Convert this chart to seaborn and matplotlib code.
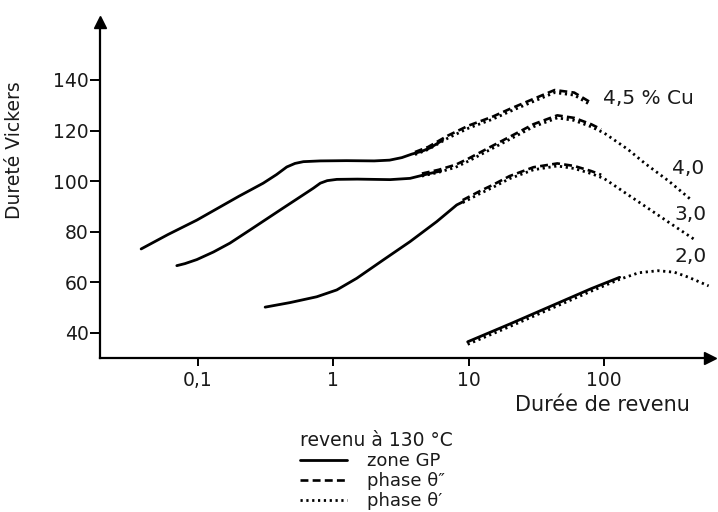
import matplotlib
matplotlib.use("Agg")
import matplotlib.pyplot as plt
from matplotlib.lines import Line2D
import seaborn as sns
import numpy as np

# ---- data ----
# 4.5 % Cu
cu45_gp_x = [0.038, 0.06, 0.098, 0.2, 0.303, 0.38, 0.452, 0.52, 0.6, 0.8, 1.25, 2.0, 2.6, 3.2, 3.8, 4.5, 5.2, 6.4]
cu45_gp_y = [73.2, 78.9, 84.6, 94.0, 99.2, 102.6, 105.6, 107.0, 107.7, 108.0, 108.1, 108.0, 108.3, 109.3, 110.7, 111.8, 113.2, 116.2]
cu45_t2_x = [4.0, 5.0, 7.0, 10, 15, 20, 30, 43, 60, 80]
cu45_t2_y = [111.5, 113.5, 118.0, 122.0, 125.5, 128.5, 132.5, 136.0, 135.0, 131.0]
cu45_t1_x = [4.0, 5.0, 7.0, 10, 15, 20, 30, 43, 60, 80]
cu45_t1_y = [110.5, 112.5, 117.0, 121.0, 124.5, 127.5, 131.5, 135.0, 134.0, 130.0]

# 4.0 % Cu
cu40_gp_x = [0.0697, 0.08, 0.098, 0.13, 0.172, 0.242, 0.426, 0.536, 0.71, 0.8, 0.9, 1.06, 1.5, 2.62, 3.68, 5.2, 6.2]
cu40_gp_y = [66.6, 67.4, 69.0, 72.0, 75.5, 80.7, 89.4, 92.9, 97.2, 99.2, 100.2, 100.7, 100.8, 100.6, 101.1, 103.1, 104.0]
cu40_t2_x = [4.5, 6.0, 8.0, 10, 15, 20, 30, 45, 60, 80, 95]
cu40_t2_y = [103.0, 104.5, 106.5, 109.0, 114.0, 117.5, 122.5, 126.0, 125.0, 122.5, 120.5]
cu40_t1_x = [4.5, 6.0, 8.0, 10, 15, 20, 30, 45, 60, 80, 100, 150, 200, 300, 430]
cu40_t1_y = [102.0, 103.5, 105.5, 108.0, 113.0, 116.5, 121.5, 125.0, 124.0, 121.5, 119.0, 112.5, 107.0, 100.0, 93.0]

# 3.0 % Cu
cu30_gp_x = [0.313, 0.478, 0.753, 1.058, 1.486, 2.34, 3.68, 5.79, 8.14, 9.1]
cu30_gp_y = [50.2, 52.0, 54.3, 57.0, 61.6, 68.9, 76.1, 84.0, 90.6, 91.9]
cu30_t2_x = [9.0, 12, 15, 20, 30, 45, 60, 80, 95]
cu30_t2_y = [92.5, 96.0, 98.5, 102.0, 105.5, 107.0, 106.0, 104.0, 102.5]
cu30_t1_x = [9.0, 12, 15, 20, 30, 45, 60, 80, 100, 150, 200, 300, 480]
cu30_t1_y = [91.5, 95.0, 97.5, 101.0, 104.5, 106.0, 105.0, 103.0, 101.0, 94.6, 90.1, 83.7, 76.4]

# 2.0 % Cu
cu20_gp_x = [9.8, 20, 40, 80, 130]
cu20_gp_y = [36.5, 43.5, 50.5, 57.5, 62.0]
cu20_t1_x = [9.8, 20, 40, 80, 130, 180, 250, 330, 420, 590]
cu20_t1_y = [35.5, 42.5, 49.5, 56.5, 61.2, 63.8, 64.6, 64.0, 62.0, 58.6]

curve_labels = ["4,5 % Cu", "4,0", "3,0", "2,0"]

xtick_vals = [0.1, 1, 10, 100]
xtick_labels = ["0,1", "1", "10", "100"]
ytick_vals = [40, 60, 80, 100, 120, 140]

legend_title = "revenu à 130 °C"
legend_labels = ["zone GP", "phase θ″", "phase θ′"]

# ---- style ----
sns.set_style("ticks")
plt.rcParams["font.family"] = ["DejaVu Sans"]
TXT = "#1a1a1a"

W, H = 718, 512
fig = plt.figure(figsize=(W / 100, H / 100), dpi=100)
fig.patch.set_facecolor("white")
x0, x1, y0, y1 = 100, 710, 22, 358
ax = fig.add_axes([x0 / W, 1 - y1 / H, (x1 - x0) / W, (y1 - y0) / H])
ax.set_facecolor("white")

SOLID = dict(color="black", lw=2.0, linestyle="-")
DASH = dict(color="black", lw=1.9, linestyle=(0, (3.0, 1.6)))
DOT = dict(color="black", lw=2.0, linestyle=(0, (0.8, 1.3)))

def draw(xs, ys, style):
    sns.lineplot(x=np.array(xs, float), y=np.array(ys, float), ax=ax,
                 sort=False, estimator=None, **style)

for xs, ys in [(cu45_gp_x, cu45_gp_y), (cu40_gp_x, cu40_gp_y),
               (cu30_gp_x, cu30_gp_y), (cu20_gp_x, cu20_gp_y)]:
    draw(xs, ys, SOLID)
for xs, ys in [(cu45_t2_x, cu45_t2_y), (cu40_t2_x, cu40_t2_y), (cu30_t2_x, cu30_t2_y)]:
    draw(xs, ys, DASH)
for xs, ys in [(cu45_t1_x, cu45_t1_y), (cu40_t1_x, cu40_t1_y),
               (cu30_t1_x, cu30_t1_y), (cu20_t1_x, cu20_t1_y)]:
    draw(xs, ys, DOT)

ax.set_xscale("log")
ax.set_xlim(0.01888, 604)
ax.set_ylim(30.1, 162.9)
ax.set_xticks(xtick_vals)
ax.set_xticklabels(xtick_labels)
ax.minorticks_off()
ax.set_yticks(ytick_vals)

for s in ["top", "right"]:
    ax.spines[s].set_visible(False)
for s in ["left", "bottom"]:
    ax.spines[s].set_linewidth(1.6)
    ax.spines[s].set_color("black")
ax.tick_params(axis="y", length=7, width=1.4, pad=1, labelsize=13.5, colors="black", labelcolor=TXT)
ax.tick_params(axis="x", length=6, width=1.4, pad=3, labelsize=13.5, colors="black", labelcolor=TXT)

# arrow heads
ax.plot([1], [0], marker=">", ms=9, color="black", transform=ax.transAxes, clip_on=False)
ax.plot([0], [1], marker="^", ms=9, color="black", transform=ax.transAxes, clip_on=False)

ax.set_ylabel("Dureté Vickers", fontsize=13.5, color=TXT)
ax.yaxis.set_label_coords((24 - x0) / (x1 - x0), (y1 - 150) / (y1 - y0))
fig.text(690 / W, 1 - 405 / H, "Durée de revenu", ha="right", va="center", fontsize=15, color=TXT)

fig.text(603 / W, 1 - 98 / H, curve_labels[0], ha="left", va="center", fontsize=14.5, color=TXT)
fig.text(672 / W, 1 - 168 / H, curve_labels[1], ha="left", va="center", fontsize=14.5, color=TXT)
fig.text(674 / W, 1 - 214 / H, curve_labels[2], ha="left", va="center", fontsize=14.5, color=TXT)
fig.text(674 / W, 1 - 257 / H, curve_labels[3], ha="left", va="center", fontsize=14.5, color=TXT)

handles = [Line2D([], [], **SOLID), Line2D([], [], **DASH), Line2D([], [], **DOT)]
leg = fig.legend(handles, legend_labels, title=legend_title, loc="upper left",
                 bbox_to_anchor=(300 / W, 1 - 431 / H), frameon=False,
                 fontsize=13, title_fontsize=13.5, alignment="left",
                 handlelength=2.6, handletextpad=1.1, labelspacing=0.12,
                 borderpad=0.0, borderaxespad=0.0)
for t in leg.get_texts():
    t.set_color(TXT)
leg.get_title().set_color(TXT)

fig.savefig("out.png", dpi=100, facecolor="white")
